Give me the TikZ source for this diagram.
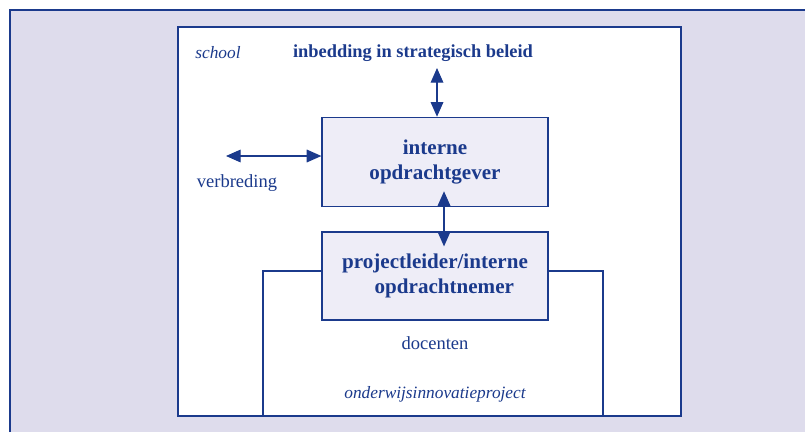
\documentclass[tikz,border=0pt]{standalone}
\usepackage{fontspec}
\setmainfont{Liberation Serif}
\usetikzlibrary{arrows.meta,positioning}

\definecolor{inktblauw}{HTML}{1B3A8C}
\definecolor{lila}{HTML}{DEDCEC}
\definecolor{bloklila}{HTML}{EEEDF7}

\begin{document}
\begin{tikzpicture}[x=0.75pt,y=-0.75pt,
    lijn/.style={draw=inktblauw, line width=0.9pt},
    tekst/.style={text=inktblauw, inner sep=0pt, anchor=base, font=\fontsize{13.9}{16}\selectfont},
    schuin/.style={tekst, font=\fontsize{13}{16}\selectfont\itshape},
    kop/.style={tekst, font=\fontsize{13.8}{16}\selectfont\bfseries},
    blok/.style={rectangle, lijn, fill=bloklila, text=inktblauw, align=center,
        minimum width=169.5pt, minimum height=67pt, inner sep=0pt,
        font=\fontsize{15.8}{19}\selectfont\bfseries},
    tweezijdig/.style={lijn, {Triangle[length=11pt,width=9.5pt]}-{Triangle[length=11pt,width=9.5pt]}}]
    \useasboundingbox (0,0) rectangle (805,432);
    %% achtergrond en kaders
    \fill[lila] (10,10) rectangle (805,432);
    \draw[lijn] (10,432) -- (10,10) -- (805,10);
    \draw[lijn, fill=white] (178,27) rectangle (681,416);

    %% blokken
    \node[blok] (gever) at (435,162) {interne\\opdrachtgever};
    \node[blok, minimum height=66pt] (nemer) at (435,276) {projectleider/interne\\\hspace*{14pt}opdrachtnemer};

    %% losse teksten
    \node[schuin] (school) at (218,58) {school};
    \node[kop] (beleid) at (413,57) {inbedding in strategisch beleid};
    \node[tekst] (verbreding) at (237,187) {verbreding};
    \node[tekst] (docenten) at (435,349) {docenten};
    \node[schuin] (project) at (435,398) {onderwijsinnovatieproject};

    %% pijlen
    \coordinate (beleidpijl) at (437,68);
    \coordinate (breedpijl) at (226,156);
    \draw[tweezijdig] (beleidpijl) -- (beleidpijl |- gever.north);
    \draw[tweezijdig] (breedpijl) -- (breedpijl -| gever.west);
    \draw[tweezijdig] ([xshift=6.75pt,yshift=12pt]gever.south) -- ([xshift=6.75pt,yshift=-11.25pt]nemer.north);

    %% kader van het project
    \coordinate (projlinks) at (263,416);
    \coordinate (projrechts) at (603,416);
    \draw[lijn, line width=0.8pt] ([yshift=3.75pt]nemer.west) -| (projlinks) -- (projrechts) |- ([yshift=3.75pt]nemer.east);
\end{tikzpicture}
\end{document}
